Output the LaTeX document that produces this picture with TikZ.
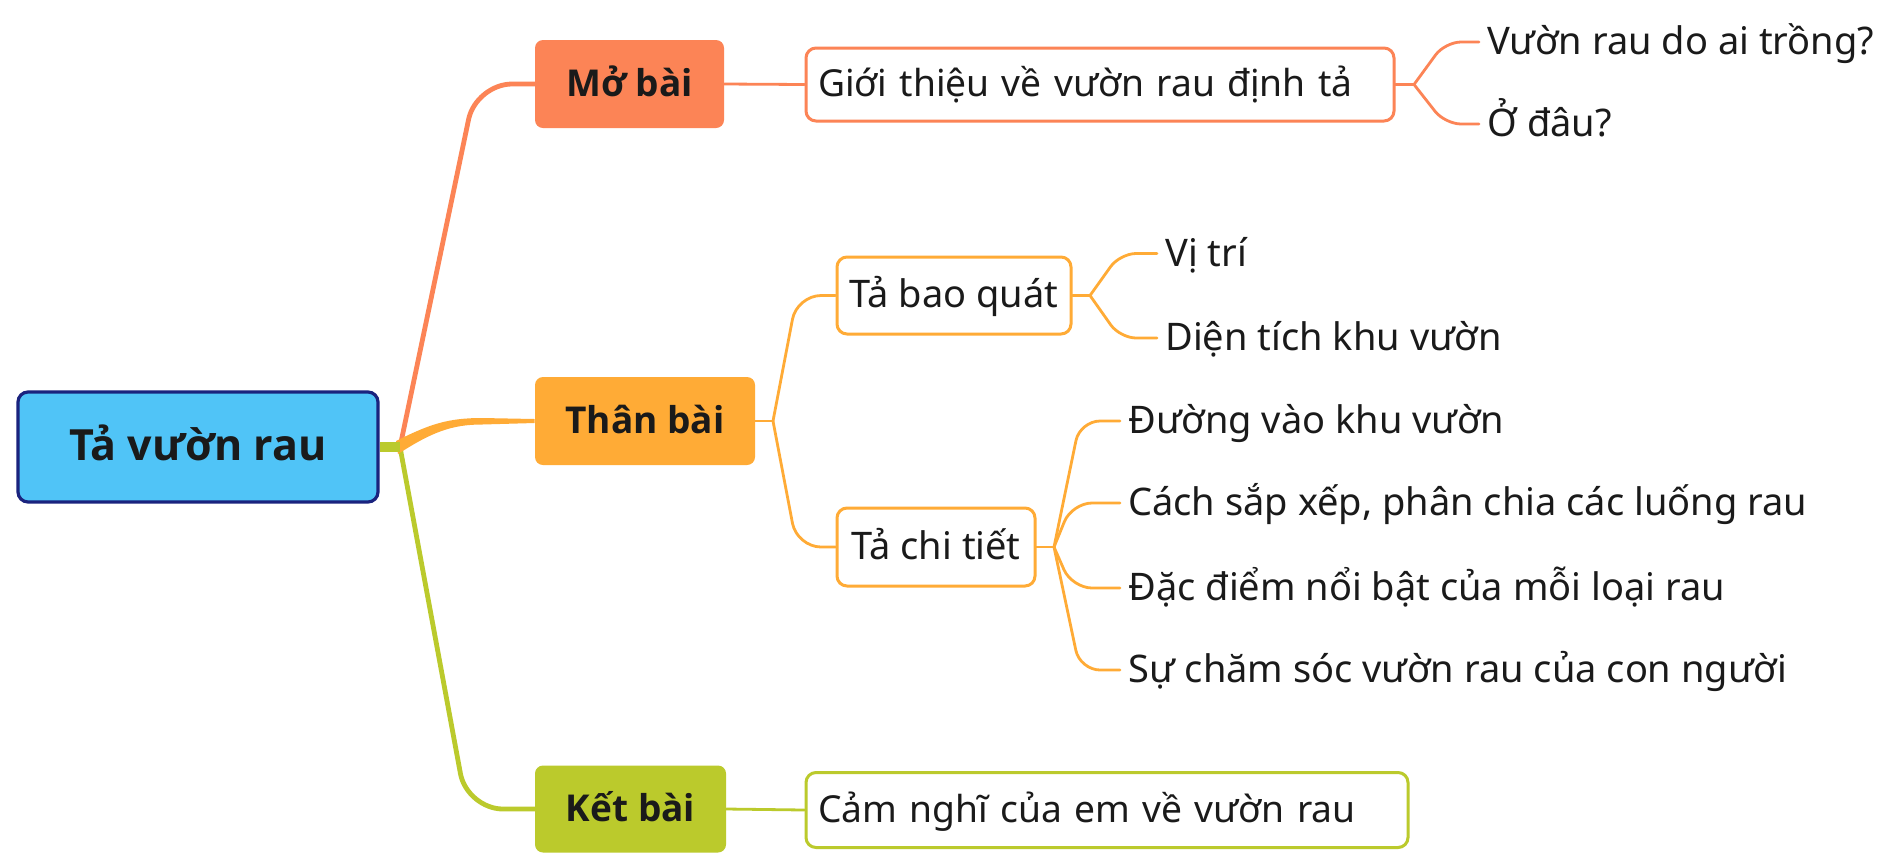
\documentclass[tikz,border=0pt]{standalone}
\usepackage{fontspec}
\setmainfont{Noto Sans}
\newfontfamily\headfont{Open Sans}
\definecolor{cRoot}{RGB}{80,196,247}
\definecolor{cRootB}{RGB}{26,35,126}
\definecolor{cMo}{RGB}{252,132,86}
\definecolor{cTh}{RGB}{255,171,54}
\definecolor{cKe}{RGB}{187,202,44}
\definecolor{cTxt}{RGB}{26,26,26}
\tikzset{
  lvone/.style={rounded corners=4pt, inner sep=0pt, text=cTxt,
    font=\headfont\bfseries\fontsize{18.5}{22}\selectfont, text height=16pt, text depth=4pt},
  lvtwo/.style={draw, line width=1.5pt, fill=white, rounded corners=5pt, inner sep=0pt, text=cTxt,
    font=\fontsize{19}{22}\selectfont, text height=16pt, text depth=4pt},
  leaf/.style={anchor=west, inner xsep=4pt, inner ysep=0pt, text=cTxt,
    font=\fontsize{19}{22}\selectfont, text height=17pt, text depth=4.2pt},
  linkone/.style={line width=2.4pt, line cap=round},
  linktwo/.style={line width=1.4pt, line cap=round},
}
\begin{document}
\begin{tikzpicture}[x=0.5pt, y=-0.5pt]
\useasboundingbox[fill=white] (0,0) rectangle (1893,864);

% root
\node[draw=cRootB, fill=cRoot, line width=1.6pt, rounded corners=5pt, inner sep=0pt,
  minimum width=180pt, minimum height=55pt, text=cTxt,
  font=\headfont\bfseries\fontsize{21.5}{26}\selectfont, text height=18pt, text depth=5pt] (root) at (198,447) {Tả vườn rau};

% level 1
\node[lvone, fill=cMo, minimum width=94.5pt, minimum height=44pt] (mo) at (629.5,84) {Mở bài};
\node[lvone, fill=cTh, minimum width=110pt, minimum height=44pt] (th) at (645,421) {Thân bài};
\node[lvone, fill=cKe, minimum width=95.5pt, minimum height=43.5pt] (ke) at (630.5,809) {Kết bài};

% level 2
\node[lvtwo, draw=cMo, text width=282pt, align=left, inner xsep=6pt, minimum height=36.5pt, font=\fontsize{18.6}{22}\selectfont] (gt) at (1100,84.5) {Giới thiệu về vườn rau định tả};
\node[lvtwo, draw=cTh, minimum width=117pt, minimum height=38.5pt] (bq) at (954,295.5) {Tả bao quát};
\node[lvtwo, draw=cTh, minimum width=99pt, minimum height=39pt] (ct) at (936,547) {Tả chi tiết};
\node[lvtwo, draw=cKe, text width=289pt, align=left, inner xsep=6pt, minimum height=37.5pt, font=\fontsize{18.6}{22}\selectfont] (cn) at (1107,810) {Cảm nghĩ của em về vườn rau};

% leaves
\node[leaf] (a1) at (1479,42) {Vườn rau do ai trồng?};
\node[leaf] (a2) at (1479,124) {Ở đâu?};
\node[leaf] (b1) at (1157,253.5) {Vị trí};
\node[leaf] (b2) at (1157,338) {Diện tích khu vườn};
\node[leaf] (c1) at (1120,421) {Đường vào khu vườn};
\node[leaf] (c2) at (1120,503) {Cách sắp xếp, phân chia các luống rau};
\node[leaf] (c3) at (1120,588) {Đặc điểm nổi bật của mỗi loại rau};
\node[leaf] (c4) at (1120,670) {Sự chăm sóc vườn rau của con người};

% level-1 connectors
\coordinate (s) at (400,447);
\draw[linkone, cMo, rounded corners=18pt] (s) -- (476,84) -- (mo.west);
\draw[linkone, cKe, rounded corners=18pt] (s) -- (467,809) -- (ke.west);
\fill[cTh] (396,441) .. controls (430,424) and (448,418) .. (482,418) -- (th.west |- 0,419) -- (th.west |- 0,423) -- (482,424.5) .. controls (452,424.5) and (432,432) .. (398,454) -- cycle;
\draw[cKe, line width=5pt] (root.east) -- (s);

% level-2 connectors
\draw[linktwo, cMo] (mo.east) -- (gt.west);
\draw[linktwo, cKe] (ke.east) -- (cn.west);
\coordinate (tb) at (773,421);
\draw[linktwo, cTh] (th.east) -- (tb);
\draw[linktwo, cTh, rounded corners=12pt] (tb) -- (797,295.5) -- (bq.west);
\draw[linktwo, cTh, rounded corners=12pt] (tb) -- (797,547) -- (ct.west);

% level-3 connectors
\coordinate (gb) at (1414,84.5);
\draw[linktwo, cMo] (gt.east) -- (gb);
\draw[linktwo, cMo, rounded corners=8pt] (gb) -- (1445,42) -- (a1.west);
\draw[linktwo, cMo, rounded corners=8pt] (gb) -- (1445,124) -- (a2.west);

\coordinate (bb) at (1090,295.5);
\draw[linktwo, cTh] (bq.east) -- (bb);
\draw[linktwo, cTh, rounded corners=8pt] (bb) -- (1120,253.5) -- (b1.west);
\draw[linktwo, cTh, rounded corners=8pt] (bb) -- (1120,338) -- (b2.west);

\coordinate (cb) at (1054,547);
\draw[linktwo, cTh] (ct.east) -- (cb);
\draw[linktwo, cTh, rounded corners=10pt] (cb) -- (1080,421) -- (c1.west);
\draw[linktwo, cTh, rounded corners=10pt] (cb) -- (1072,503) -- (c2.west);
\draw[linktwo, cTh, rounded corners=10pt] (cb) -- (1072,588) -- (c3.west);
\draw[linktwo, cTh, rounded corners=10pt] (cb) -- (1080,670) -- (c4.west);
\end{tikzpicture}
\end{document}
